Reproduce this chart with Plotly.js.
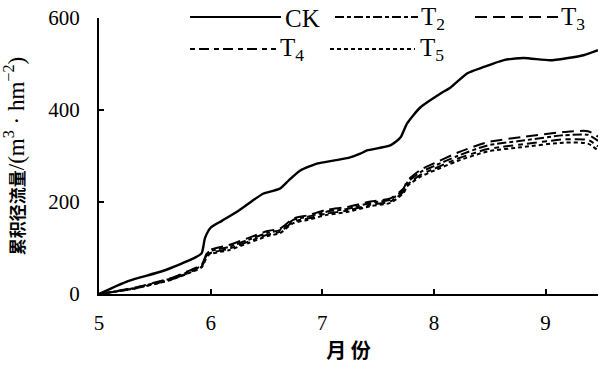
<!DOCTYPE html>
<html>
<head>
<meta charset="utf-8">
<script src="https://cdn.plot.ly/plotly-3.0.1.min.js"></script>
<style>html,body{margin:0;padding:0;background:#fff;}#chart{width:600px;height:365px;}</style>
</head>
<body>
<div id="chart"></div>
<script>
// Month positions (5 = May ... 9 = Sept)
const monthsCK = [5.0, 5.26, 5.57, 5.86, 5.92, 5.95, 6.0, 6.10, 6.25, 6.40, 6.47, 6.62, 6.70, 6.80, 6.96, 7.10, 7.25, 7.34, 7.40, 7.61, 7.70, 7.76, 7.88, 8.06, 8.15, 8.30, 8.44, 8.62, 8.80, 9.04, 9.20, 9.34, 9.47];
const valuesCK = [0, 28, 50, 79, 89, 122, 144, 159, 181, 207, 218, 229, 247, 268, 284, 290, 297, 305, 312, 323, 340, 371, 406, 436, 449, 480, 493, 508, 513, 508, 513, 519, 530];

const monthsT = [5.0, 5.32, 5.65, 5.83, 5.92, 5.98, 6.16, 6.34, 6.51, 6.62, 6.74, 6.87, 7.04, 7.22, 7.43, 7.61, 7.73, 7.76, 7.88, 8.0, 8.21, 8.48, 8.78, 9.16, 9.38, 9.47];
const valuesT2 = [0, 13, 34, 51, 62, 91, 102, 118, 133, 139, 161, 168, 179, 185, 198, 205, 227, 242, 265, 278, 300, 323, 333, 345, 346, 333];
const valuesT3 = [0, 14, 35, 53, 64, 94, 106, 122, 137, 142, 164, 171, 183, 189, 201, 208, 230, 246, 270, 284, 307, 330, 341, 352, 354, 342];
const valuesT4 = [0, 12, 32, 49, 60, 87, 98, 114, 129, 135, 157, 164, 175, 181, 194, 201, 223, 237, 259, 272, 294, 315, 325, 336, 335, 321];
const valuesT5 = [0, 12, 31, 48, 58, 85, 95, 111, 126, 132, 154, 161, 172, 178, 191, 198, 220, 234, 255, 268, 289, 310, 319, 329, 327, 312];

const seriesNames = ['CK', 'T<sub>2</sub>', 'T<sub>3</sub>', 'T<sub>4</sub>', 'T<sub>5</sub>'];
const xTicks = [5, 6, 7, 8, 9];
const yTicks = [0, 200, 400, 600];

const dashes = ['solid', '9px,3px,4px,3px', '12px,6px', '5px,4px,10px,5px', '4px,3px'];
const seriesX = [monthsCK, monthsT, monthsT, monthsT, monthsT];
const seriesY = [valuesCK, valuesT2, valuesT3, valuesT4, valuesT5];

const traces = seriesY.map((ys, i) => ({
  type: 'scatter', mode: 'lines', x: seriesX[i], y: ys, name: seriesNames[i],
  line: {color: '#000', width: i === 0 ? 2.4 : 2, dash: dashes[i], shape: 'spline', smoothing: 0.6},
  showlegend: false, hoverinfo: 'skip'
}));

// custom legend (paper coords: plot x 99..598 px, y 18..294 px)
const px = p => (p - 99) / 499;
const py = p => (294 - p) / 276;
const legendItems = [
  {x0: 190, x1: 281, tx: 283, y: 17},
  {x0: 335, x1: 418, tx: 419, y: 17},
  {x0: 475, x1: 558, tx: 559, y: 17},
  {x0: 190, x1: 276, tx: 278, y: 49},
  {x0: 330, x1: 415, tx: 418, y: 49}
];
const shapes = legendItems.map((it, i) => ({
  type: 'line', xref: 'paper', yref: 'paper', x0: px(it.x0), x1: px(it.x1), y0: py(it.y), y1: py(it.y),
  line: {color: '#000', width: 2, dash: dashes[i]}
}));
const annotations = legendItems.map((it, i) => ({
  xref: 'paper', yref: 'paper', x: px(it.tx), y: py(it.y + 1), xanchor: 'left', yanchor: 'middle',
  text: seriesNames[i], showarrow: false, font: {family: 'Liberation Serif', size: 25, color: '#000'}
}));

const layout = {
  width: 600, height: 365,
  margin: {l: 99, r: 2, t: 18, b: 71},
  paper_bgcolor: '#fff', plot_bgcolor: '#fff',
  showlegend: false,
  xaxis: {
    range: [5, 9.47], tickvals: xTicks, ticktext: xTicks.map(String),
    showgrid: false, zeroline: false, showline: true, linecolor: '#000', linewidth: 2,
    ticks: 'inside', ticklen: 5, tickwidth: 2, tickcolor: '#000', ticklabelstandoff: 9,
    tickfont: {family: 'Liberation Serif', size: 21, color: '#000'},
    title: {text: '<b>月 份</b>', font: {family: 'Noto Sans CJK SC', size: 20, color: '#000000'}, standoff: 3}
  },
  yaxis: {
    range: [0, 600], tickvals: yTicks, ticktext: yTicks.map(String),
    showgrid: false, zeroline: false, showline: true, linecolor: '#000', linewidth: 2,
    ticks: 'inside', ticklen: 5, tickwidth: 2, tickcolor: '#000', ticklabelstandoff: 13,
    tickfont: {family: 'Liberation Serif', size: 21, color: '#000'},
    title: {text: '<b>累积径流量</b><span style="font-size:23px">/(m<sup>3</sup> · hm<sup>−2</sup>)</span>', font: {family: 'Liberation Serif, Noto Sans CJK SC', size: 17, color: '#000000'}, standoff: 20}
  },
  shapes: shapes,
  annotations: annotations
};

Plotly.newPlot('chart', traces, layout, {displayModeBar: false, staticPlot: true});
</script>
</body>
</html>
